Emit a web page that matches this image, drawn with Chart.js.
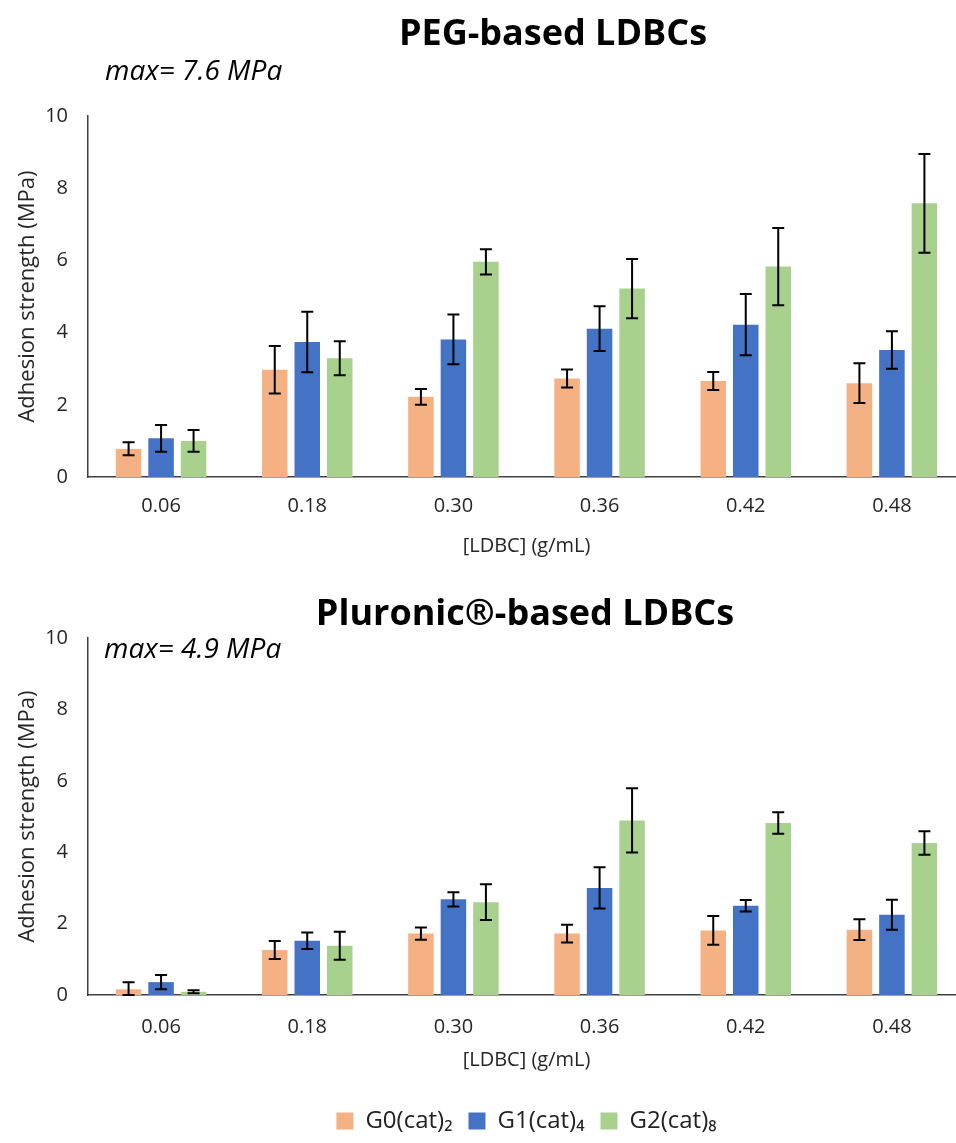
<!DOCTYPE html>
<html>
<head>
<meta charset="utf-8">
<script src="https://cdn.jsdelivr.net/npm/chart.js@4.4.1/dist/chart.umd.min.js"></script>
<style>
  html, body { margin: 0; padding: 0; background: #fff; overflow: hidden; }
  #wrap { position: relative; width: 956px; height: 1143px; overflow: hidden; }
  #pegChart { position: absolute; left: 0; top: 0; }
  #pluChart { position: absolute; left: 0; top: 580px; }
</style>
</head>
<body>
<div id="wrap">
  <canvas id="pegChart" width="970" height="565"></canvas>
  <canvas id="pluChart" width="970" height="563"></canvas>
</div>
<script>
const categories = ['0.06', '0.18', '0.30', '0.36', '0.42', '0.48'];
const seriesNames = ['G0(cat)\u2082', 'G1(cat)\u2084', 'G2(cat)\u2088'];
const yTicks = [0, 2, 4, 6, 8, 10];

// PEG-based (MPa) and error (±)
const pegG0 = [0.78, 2.97, 2.22, 2.73, 2.66, 2.60];
const pegG0Err = [0.18, 0.66, 0.22, 0.25, 0.25, 0.55];
const pegG1 = [1.07, 3.74, 3.81, 4.11, 4.22, 3.52];
const pegG1Err = [0.37, 0.84, 0.69, 0.62, 0.85, 0.52];
const pegG2 = [1.00, 3.29, 5.96, 5.22, 5.83, 7.58];
const pegG2Err = [0.30, 0.47, 0.35, 0.82, 1.07, 1.37];

// Pluronic-based (MPa) and error (±)
const pluG0 = [0.16, 1.26, 1.72, 1.72, 1.81, 1.83];
const pluG0Err = [0.20, 0.25, 0.17, 0.25, 0.40, 0.29];
const pluG1 = [0.36, 1.52, 2.68, 3.00, 2.50, 2.25];
const pluG1Err = [0.20, 0.23, 0.20, 0.58, 0.16, 0.42];
const pluG2 = [0.09, 1.38, 2.60, 4.89, 4.82, 4.26];
const pluG2Err = [0.04, 0.39, 0.50, 0.90, 0.30, 0.33];

const colors = ['#F4B183', '#4472C4', '#A9D18E'];
const FONT = "'Open Sans', 'Noto Sans', sans-serif";

// error bars drawn through the y scale
const errorBars = {
  id: 'errorBars',
  afterDatasetsDraw(chart) {
    const ctx = chart.ctx;
    const y = chart.scales.y;
    ctx.save();
    ctx.strokeStyle = '#000';
    ctx.lineWidth = 2;
    chart.data.datasets.forEach((ds, i) => {
      const meta = chart.getDatasetMeta(i);
      meta.data.forEach((bar, j) => {
        const v = ds.data[j], e = ds.errors[j];
        const top = y.getPixelForValue(v + e);
        const bot = y.getPixelForValue(Math.max(v - e, 0));
        const x = bar.x;
        ctx.beginPath();
        ctx.moveTo(x, top); ctx.lineTo(x, bot);
        ctx.moveTo(x - 6, top); ctx.lineTo(x + 6, top);
        ctx.moveTo(x - 6, bot); ctx.lineTo(x + 6, bot);
        ctx.stroke();
      });
    });
    ctx.restore();
  }
};

// panel title and "max=" note
const panelText = {
  id: 'panelText',
  afterDraw(chart, args, opts) {
    const ctx = chart.ctx;
    ctx.save();
    ctx.fillStyle = '#000';
    ctx.textBaseline = 'middle';
    ctx.textAlign = 'center';
    ctx.font = "bold 36px " + FONT;
    ctx.fillText(opts.title, opts.titleX, opts.titleY);
    ctx.textAlign = 'left';
    ctx.font = "italic 28px " + FONT;
    ctx.fillText(opts.note, opts.noteX, opts.noteY);
    ctx.restore();
  }
};

function makeChart(id, vals, errs, text, opt) {
  const datasets = vals.map((v, i) => ({
    label: seriesNames[i],
    data: v,
    errors: errs[i],
    backgroundColor: colors[i],
    borderWidth: 0,
    categoryPercentage: 0.667,
    barPercentage: 0.785
  }));
  return new Chart(document.getElementById(id), {
    type: 'bar',
    data: { labels: categories, datasets: datasets },
    options: {
      responsive: false,
      animation: false,
      layout: { padding: { top: opt.padTop, right: 5, bottom: opt.padBottom, left: 0 } },
      plugins: {
        legend: {
          display: opt.legend,
          position: 'bottom',
          fullSize: false,
          labels: {
            boxWidth: 17, boxHeight: 17, padding: 16,
            color: '#222',
            font: { family: FONT, size: 24 }
          }
        },
        tooltip: { enabled: false },
        panelText: text
      },
      scales: {
        x: {
          grid: { display: false, drawTicks: false },
          border: { display: true, color: '#404040', width: 1.5 },
          ticks: { padding: opt.xTickPad, color: '#262626', font: { family: FONT, size: 20 } },
          title: {
            display: true, text: '[LDBC] (g/mL)', color: '#262626',
            font: { family: FONT, size: 20 },
            padding: { top: 4, bottom: opt.xTitlePad }
          },
          afterFit(s) { s.height = opt.xHeight; }
        },
        y: {
          min: 0, max: 10,
          afterBuildTicks(s) { s.ticks = yTicks.map(v => ({ value: v })); },
          grid: { display: false, drawTicks: false },
          border: { display: true, color: '#404040', width: 1.5 },
          ticks: { padding: 20, color: '#262626', font: { family: FONT, size: 20 } },
          title: {
            display: true, text: 'Adhesion strength (MPa)', color: '#262626',
            font: { family: FONT, size: 22 },
            padding: { top: 15, bottom: 4 }
          },
          afterFit(s) { s.width = 88; }
        }
      }
    },
    plugins: [errorBars, panelText]
  });
}

makeChart('pegChart',
  [pegG0, pegG1, pegG2], [pegG0Err, pegG1Err, pegG2Err],
  { title: 'PEG-based LDBCs', titleX: 553, titleY: 35, note: 'max= 7.6 MPa', noteX: 105, noteY: 72 },
  { padTop: 116, padBottom: 4, xHeight: 84, xTitlePad: 3, xTickPad: 17, legend: false });

makeChart('pluChart',
  [pluG0, pluG1, pluG2], [pluG0Err, pluG1Err, pluG2Err],
  { title: 'Pluronic\u00AE-based LDBCs', titleX: 525, titleY: 35, note: 'max= 4.9 MPa', noteX: 104, noteY: 70 },
  { padTop: 58, padBottom: 0, xHeight: 98, xTitlePad: 21, xTickPad: 20, legend: true });
</script>
</body>
</html>
